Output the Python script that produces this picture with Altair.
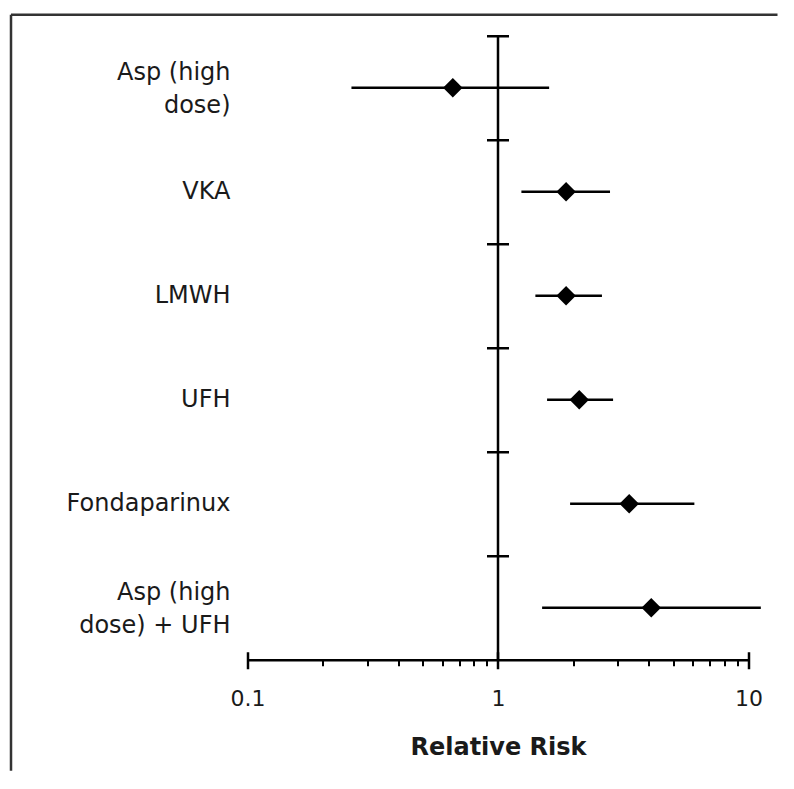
import altair as alt
import pandas as pd

# ---- data ----
treatments = ["Asp (high\ndose)", "VKA", "LMWH", "UFH", "Fondaparinux", "Asp (high\ndose) + UFH"]
rr = [0.66, 1.87, 1.87, 2.11, 3.34, 4.09]
ci_low = [0.26, 1.24, 1.41, 1.57, 1.94, 1.50]
ci_high = [1.60, 2.80, 2.60, 2.88, 6.08, 11.2]
minor_ticks = [0.1, 0.2, 0.3, 0.4, 0.5, 0.6, 0.7, 0.8, 0.9, 1,
               2, 3, 4, 5, 6, 7, 8, 9, 10]
major_ticks = [0.1, 1, 10]

df = pd.DataFrame({"treatment": treatments, "rr": rr, "lo": ci_low, "hi": ci_high})
frame_df = pd.DataFrame({"edge": ["frame"]})

FONT = "DejaVu Sans"
TXT = "#1a1a1a"
LINE_H = 33

xscale = alt.Scale(type="log", domain=[0.1, 10], nice=False)
yscale = alt.Scale(paddingInner=0, paddingOuter=0)

base = alt.Chart(df)

ci = base.mark_rule(color="black", strokeWidth=2.5).encode(
    x=alt.X("lo:Q", scale=xscale,
            axis=alt.Axis(orient="bottom", values=minor_ticks, labels=False,
                          tickSize=6, tickWidth=2, tickColor="black",
                          domainColor="black", domainWidth=2.5,
                          title=None, grid=False)),
    x2="hi:Q",
    y=alt.Y("treatment:N", sort=treatments, scale=yscale,
            axis=alt.Axis(orient="left", offset=-250, labels=False,
                          domain=True, domainColor="black", domainWidth=2.5,
                          ticks=True, tickSize=11, tickWidth=2.5, tickColor="black",
                          bandPosition=0, title=None, grid=False)),
)

pts = base.mark_point(shape="diamond", filled=True, size=380, color="black", opacity=1).encode(
    x=alt.X("rr:Q", scale=xscale,
            axis=alt.Axis(orient="bottom", values=major_ticks, offset=-8, domain=False,
                          tickSize=17, tickWidth=2.5, tickColor="black",
                          format="~g", labelFont=FONT, labelFontSize=22, labelColor=TXT,
                          labelPadding=20, labelFlush=False,
                          title="Relative Risk", titleFont=FONT, titleFontSize=24,
                          titleFontWeight="bold", titleColor=TXT, titlePadding=26,
                          grid=False)),
    y=alt.Y("treatment:N", sort=treatments, scale=yscale,
            axis=alt.Axis(orient="right", offset=-251, labels=False, domain=False,
                          ticks=True, tickSize=11, tickWidth=2.5, tickColor="black",
                          bandPosition=0, title=None, grid=False)),
)

label_style = dict(align="right", baseline="middle", fontSize=24, font=FONT,
                   color=TXT, lineBreak="\n", lineHeight=LINE_H)

labels_one = base.transform_filter(
    "indexof(datum.treatment, '\\n') < 0"
).mark_text(**label_style).encode(
    x=alt.value(-17),
    y=alt.Y("treatment:N", sort=treatments, scale=yscale, axis=None),
    text="treatment:N",
)

labels_two = base.transform_filter(
    "indexof(datum.treatment, '\\n') >= 0"
).mark_text(dy=-15, **label_style).encode(
    x=alt.value(-17),
    y=alt.Y("treatment:N", sort=treatments, scale=yscale, axis=None),
    text="treatment:N",
)

top_edge = alt.Chart(frame_df).mark_rule(color="#333333", strokeWidth=2.5).encode(
    x=alt.value(-236.5), x2=alt.value(530), y=alt.value(-21))
left_edge = alt.Chart(frame_df).mark_rule(color="#333333", strokeWidth=2.5).encode(
    x=alt.value(-236.5), y=alt.value(-21), y2=alt.value(735))

chart = alt.layer(ci, pts, labels_one, labels_two, top_edge, left_edge).resolve_axis(
    x="independent", y="independent"
).properties(
    width=501, height=624,
    padding={"left": 1.5, "top": 4.75, "right": 0, "bottom": 0},
).configure_view(stroke=None)

chart.save("out.html", embed_options={"renderer": "svg", "actions": False})
